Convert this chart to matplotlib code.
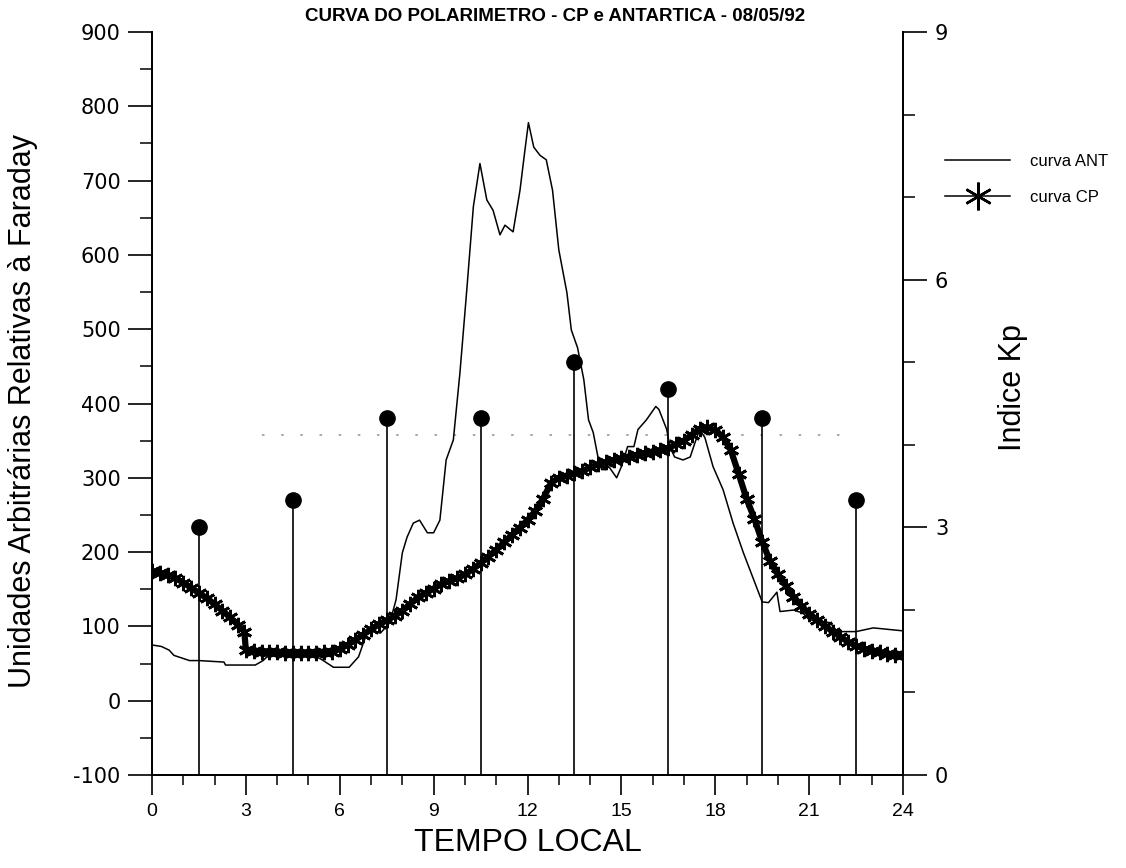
import matplotlib
matplotlib.use("Agg")
import matplotlib.pyplot as plt
from matplotlib.lines import Line2D
from matplotlib.ticker import MultipleLocator

plt.rcParams['axes.unicode_minus'] = False

# ---------------- data ----------------
ant_hours = [0.0, 0.3, 0.55, 0.7, 1.2, 1.5, 2.3, 2.35, 3.3, 3.55, 3.65, 3.8, 4.5, 5.2,
             5.4, 5.8, 6.3, 6.6, 6.9, 7.3, 7.6, 7.8, 8.0, 8.15, 8.35, 8.55, 8.8, 9.0,
             9.2, 9.4, 9.63, 9.84, 10.06, 10.27, 10.48, 10.7, 10.9, 11.12, 11.28, 11.54,
             11.76, 11.9, 12.03, 12.2, 12.4, 12.6, 12.8, 13.0, 13.26, 13.4, 13.6, 13.8,
             13.95, 14.1, 14.27, 14.37, 14.5, 14.6, 14.85, 15.0, 15.2, 15.4, 15.53, 15.8,
             16.1, 16.2, 16.45, 16.55, 16.7, 16.97, 17.2, 17.35, 17.5, 17.67, 17.93,
             18.25, 18.57, 18.9, 19.2, 19.5, 19.7, 19.97, 20.07, 20.5, 20.8, 21.0, 21.67,
             21.9, 22.5, 23.05, 24.0]
ant_values = [75, 73, 68, 61, 54, 54, 52, 48, 48, 54, 58, 62, 62, 60,
              56, 45, 45, 59, 95, 91, 105, 136, 199, 220, 239, 243, 226, 226,
              243, 324, 351, 441, 553, 665, 723, 674, 660, 627, 640, 631,
              687, 735, 778, 745, 734, 728, 687, 607, 549, 499, 475, 432,
              378, 361, 324, 311, 311, 315, 300, 315, 342, 342, 365, 378,
              396, 392, 365, 342, 328, 324, 328, 347, 365, 354, 315,
              284, 239, 199, 166, 133, 132, 146, 120, 122, 118, 109, 105,
              93, 93, 98, 94]

cp_hours = [0.0, 0.25, 0.5, 0.75, 1.0, 1.25, 1.5, 1.75, 2.0, 2.25, 2.5, 2.75, 2.95,
            3.0, 3.25, 3.5, 3.75, 4.0, 4.25, 4.5, 4.75, 5.0, 5.25, 5.5, 5.75,
            6.0, 6.25, 6.5, 6.75, 7.0, 7.25, 7.5, 7.75, 8.0, 8.25, 8.5, 8.75,
            9.0, 9.25, 9.5, 9.75, 10.0, 10.25, 10.5, 10.75, 11.0, 11.25, 11.5, 11.75,
            12.0, 12.25, 12.5, 12.75, 13.0, 13.25, 13.5, 13.75, 14.0, 14.25, 14.5, 14.75,
            15.0, 15.25, 15.5, 15.75, 16.0, 16.25, 16.5, 16.75, 17.0, 17.25, 17.5, 17.75,
            18.0, 18.25, 18.5, 18.75, 19.0, 19.25, 19.5, 19.75, 20.0, 20.25, 20.5, 20.75,
            21.0, 21.25, 21.5, 21.75, 22.0, 22.25, 22.5, 22.75, 23.0, 23.25, 23.5, 23.75,
            24.0]
cp_values = [174, 172, 169, 165, 159, 152, 145, 138, 130, 121, 112, 102, 93,
             68, 67, 66, 65, 65, 64, 64, 64, 64, 64, 65, 66,
             70, 75, 82, 89, 96, 103, 108, 114, 121, 130, 139, 145,
             151, 157, 161, 165, 170, 177, 185, 194, 203, 213, 223, 233,
             243, 255, 272, 293, 300, 303, 306, 309, 314, 318, 321, 324,
             326, 328, 331, 333, 335, 337, 340, 345, 350, 358, 366, 368,
             364, 355, 337, 305, 272, 245, 214, 188, 170, 155, 140, 128,
             117, 109, 101, 93, 86, 79, 74, 70, 67, 65, 63, 62,
             61]

kp_hours = [1.5, 4.5, 7.5, 10.5, 13.5, 16.5, 19.5, 22.5]
kp_values = [3.0, 3.33, 4.33, 4.33, 5.0, 4.67, 4.33, 3.33]

ref_level = 358
x_ticks = [0, 3, 6, 9, 12, 15, 18, 21, 24]
y_ticks = [-100, 0, 100, 200, 300, 400, 500, 600, 700, 800, 900]
kp_ticks = [0, 3, 6, 9]

title = "CURVA DO POLARIMETRO - CP e ANTARTICA - 08/05/92"
xlabel = "TEMPO LOCAL"
ylabel = "Unidades Arbitrárias Relativas à Faraday"
y2label = "Indice Kp"
labels = ["curva ANT", "curva CP"]

# ---------------- figure ----------------
sans = ['Liberation Sans', 'DejaVu Sans']
fig = plt.figure(figsize=(11.26, 8.68), dpi=100)
ax = fig.add_axes([152/1126, 1-775/868, (903-152)/1126, (775-32)/868])
ax2 = ax.twinx()

ax.set_xlim(0, 24)
ax.set_ylim(-100, 900)
ax2.set_ylim(0, 9)

star = (6, 2, 0)
ax.plot(ant_hours, ant_values, color='black', lw=1.1, zorder=3)
ax.plot(cp_hours, cp_values, color='black', lw=4.5, marker=star,
        markersize=11, markeredgewidth=2.0, zorder=4)
ax.hlines(ref_level, 3.5, 22.5, colors='0.6', linestyles=(0, (1.5, 10)), lw=1.2, zorder=2)

ax2.vlines(kp_hours, 0, kp_values, colors='black', lw=1.2)
ax2.plot(kp_hours, kp_values, 'o', color='black', markersize=11, zorder=5)

for a in (ax, ax2):
    a.spines['top'].set_visible(False)
    for s in ('left', 'right', 'bottom'):
        a.spines[s].set_linewidth(1.3)

ax.set_xticks(x_ticks)
ax.xaxis.set_minor_locator(MultipleLocator(1))
ax.set_yticks(y_ticks)
ax.yaxis.set_minor_locator(MultipleLocator(50))
ax2.set_yticks(kp_ticks)
ax2.yaxis.set_minor_locator(MultipleLocator(1))

ax.tick_params(axis='x', which='major', direction='out', length=14.5, width=1.2, pad=6)
ax.tick_params(axis='x', which='minor', direction='out', length=7, width=1.1)
ax.tick_params(axis='y', which='major', direction='out', length=17, width=1.2, pad=5.5)
ax.tick_params(axis='y', which='minor', direction='out', length=8.5, width=1.1)
ax2.tick_params(axis='y', which='major', direction='out', length=17, width=1.2, pad=6)
ax2.tick_params(axis='y', which='minor', direction='out', length=8.5, width=1.1)

for lab in ax.get_yticklabels():
    lab.set_fontfamily('DejaVu Sans'); lab.set_fontsize(15)
for lab in ax2.get_yticklabels():
    lab.set_fontfamily('DejaVu Sans'); lab.set_fontsize(15)
for lab in ax.get_xticklabels():
    lab.set_fontfamily(sans); lab.set_fontsize(14)

ax.set_ylabel(ylabel, family=sans, fontsize=22)
ax.yaxis.set_label_coords(-0.152, 0.49)
ax.set_xlabel(xlabel, family=sans, fontsize=23)
ax.xaxis.set_label_coords(0.5, -0.071)
ax2.set_ylabel(y2label, family=sans, fontsize=22)
ax2.yaxis.set_label_coords(1.1265, 0.522)

ax.text(0.537, 1.021, title, transform=ax.transAxes, ha='center', va='center',
        family=sans, fontsize=13.5, fontweight='bold')

handles = [Line2D([], [], color='black', lw=1.1),
           Line2D([], [], color='black', lw=1.1, marker=star, markersize=20,
                  markeredgewidth=1.8)]
fig.legend(handles, labels, loc='upper left', bbox_to_anchor=(945/1126, 1-154/868),
           frameon=False, borderpad=0, borderaxespad=0, handlelength=3.9,
           handletextpad=1.2, labelspacing=1.25, prop={'family': sans, 'size': 12})

fig.savefig('out.png', dpi=100)
